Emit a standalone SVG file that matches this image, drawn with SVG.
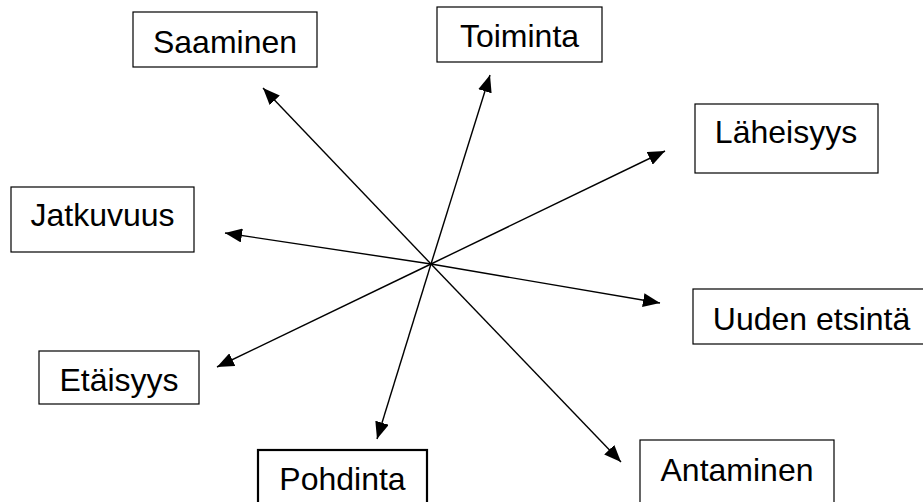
<svg xmlns="http://www.w3.org/2000/svg" width="923" height="502" viewBox="0 0 923 502">
<style>
.box{fill:#fff;stroke:#000;stroke-width:1.2}
.thick{stroke-width:2.2}
.lbl{font-family:"Liberation Sans",Arial,sans-serif;font-size:32px;fill:#000;text-anchor:middle}
.con{stroke:#000;stroke-width:1.4;fill:none;marker-end:url(#ah)}
</style>
<defs>
<marker id="ah" markerUnits="userSpaceOnUse" markerWidth="18" markerHeight="14" refX="17" refY="7" orient="auto">
<path d="M0,0 L17,7 L0,14 Z" fill="#000"/>
</marker>
</defs>
<rect width="923" height="502" fill="#fff"/>
<g id="connectors">
<line class="con" x1="431" y1="264" x2="263" y2="88"/>
<line class="con" x1="431" y1="264" x2="490" y2="75"/>
<line class="con" x1="431" y1="264" x2="665" y2="151"/>
<line class="con" x1="431" y1="264" x2="225" y2="233"/>
<line class="con" x1="431" y1="264" x2="660" y2="303"/>
<line class="con" x1="431" y1="264" x2="217" y2="367"/>
<line class="con" x1="431" y1="264" x2="377" y2="439"/>
<line class="con" x1="431" y1="264" x2="621" y2="462"/>
</g>
<g id="saaminen"><rect class="box" x="133" y="12" width="184" height="55"/><text class="lbl" x="225" y="53">Saaminen</text></g>
<g id="toiminta"><rect class="box" x="437" y="7" width="165" height="55"/><text class="lbl" x="519.5" y="47">Toiminta</text></g>
<g id="laheisyys"><rect class="box" x="695" y="104" width="183" height="69"/><text class="lbl" x="786" y="143">Läheisyys</text></g>
<g id="jatkuvuus"><rect class="box" x="11" y="187" width="183" height="65"/><text class="lbl" x="102.5" y="226">Jatkuvuus</text></g>
<g id="uuden-etsinta"><rect class="box" x="693" y="289" width="237" height="55"/><text class="lbl" x="811.5" y="330">Uuden etsintä</text></g>
<g id="etaisyys"><rect class="box" x="39" y="351" width="160" height="53"/><text class="lbl" x="119" y="391">Etäisyys</text></g>
<g id="pohdinta"><rect class="box thick" x="258" y="450" width="169" height="60"/><text class="lbl" x="342.5" y="490">Pohdinta</text></g>
<g id="antaminen"><rect class="box" x="640" y="440" width="194" height="70"/><text class="lbl" x="737" y="481">Antaminen</text></g>
</svg>
